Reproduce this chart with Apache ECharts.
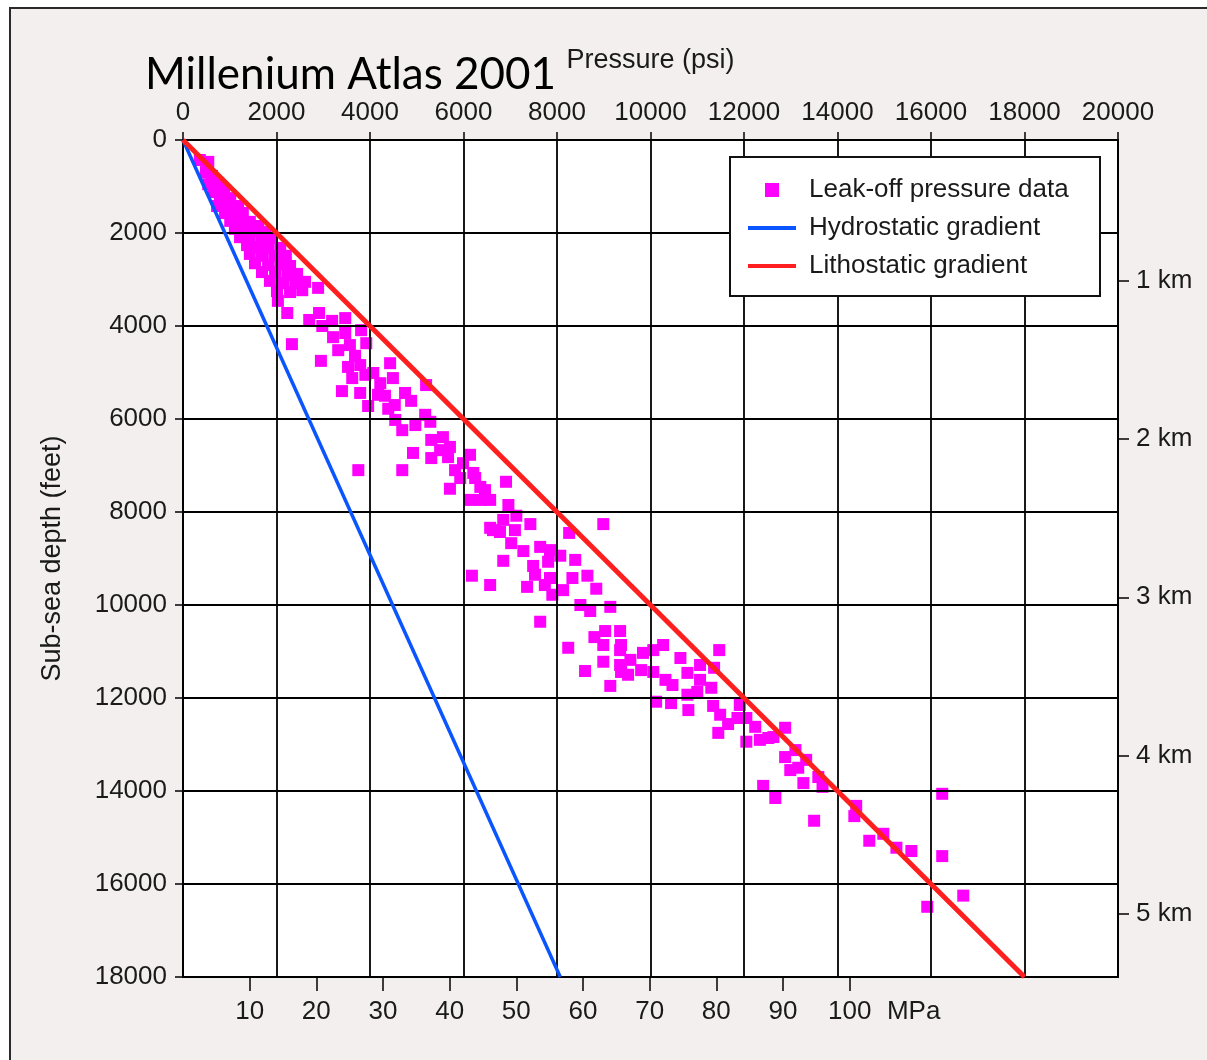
<!DOCTYPE html>
<html>
<head>
<meta charset="utf-8">
<script src="https://cdn.jsdelivr.net/npm/echarts@6/dist/echarts.min.js"></script>
<style>
  html, body { margin: 0; padding: 0; background: #fff; }
  #chart { width: 1207px; height: 1060px; }
</style>
</head>
<body>
<div id="chart"></div>
<script>
// Leak-off test pressures (psi) against sub-sea depth (ft)
const leakOffPsi = [
  360, 540, 490, 620, 540, 750, 660, 880, 790, 1010, 730, 940, 1180, 900, 1090, 1280,
  1010, 1220, 1430, 1610, 1110, 1330, 1540, 1760, 1220, 1430, 1690, 1860, 1370, 1580,
  1820, 2080, 1430, 1690, 1950, 2200, 1540, 1820, 2080, 2290, 1690, 1970, 2230, 2440,
  1860, 2140, 2400, 2610, 2010, 2290, 2550, 2890, 2030, 2230, 2330, 2700, 2910, 3190,
  3470, 2980, 2950, 3210, 3320, 3530, 3790, 3470, 3810, 3920, 3400, 3790, 3960, 4070,
  4220, 4430, 4490, 4390, 4750, 4880, 5200, 3750, 4690, 4690, 4970, 5290, 4920, 5310,
  5310, 5560, 5710, 5670, 5710, 5990, 6210, 6360, 6570, 6360, 3570, 3680, 3900, 3620,
  4170, 4540, 4320, 5930, 6140, 6250, 6460, 6570, 6910, 6960, 6850, 6630, 7130, 7430,
  7020, 7280, 7640, 7850, 8070, 6850, 7490, 7810, 6180, 6570, 7360, 7850, 7900, 8130,
  8330, 8650, 8840, 8260, 8990, 8500, 8710, 9140, 7640, 8240, 8800, 9030, 9350, 8990,
  9350, 9570, 8600, 6140, 6780, 8990, 9140, 9370, 9370, 9520, 9840, 9800, 10060, 10060,
  10270, 10320, 10470, 10640, 10790, 11060, 11470, 11360, 11300, 11000, 10790, 10120,
  10440, 10810, 11340, 11490, 11450, 11860, 12050, 12240, 12630, 12880, 12880, 12990,
  11660, 12050, 12520, 13160, 13270, 13590, 13680, 12410, 12670, 13500, 14400, 14360,
  14680, 14980, 15260, 15580, 16240, 16240, 16690, 15920, 13330, 13100,
  5820, 5500, 5180, 4530, 7100, 7740, 7530, 8390, 9350, 11060, 11910, 12340
];
const leakOffDepthFt = [
  430, 470, 690, 770, 950, 950, 1120, 1080, 1270, 1250, 1420, 1420, 1420, 1570, 1590, 1570,
  1740, 1740, 1760, 1850, 1910, 1910, 1960, 1980, 2090, 2110, 2150, 2110, 2260, 2300,
  2320, 2320, 2450, 2490, 2490, 2490, 2650, 2690, 2670, 2710, 2840, 2840, 2900, 2880,
  3030, 3080, 3080, 3050, 3250, 3270, 3230, 3180, 3460, 3720, 4390, 3870, 3720, 3890,
  3830, 4000, 4750, 4240, 4520, 4880, 4840, 4150, 4090, 4370, 5400, 5440, 5720, 5010,
  5230, 4800, 5120, 5780, 5440, 5610, 5270, 7100, 7100, 6240, 6130, 6060, 6730, 6450,
  6840, 6390, 6600, 6820, 7500, 6950, 7160, 7460, 8340, 7740, 4410, 4640, 5050, 5120,
  5480, 6020, 5500, 7270, 6770, 7270, 7530, 7740, 7350, 7850, 8170, 8390, 8080, 8260,
  8670, 8840, 8750, 8820, 8940, 9050, 9160, 9070, 9370, 9570, 9610, 9420, 9780, 9680,
  9420, 9370, 9650, 8450, 8260, 10000, 10130, 10040, 10360, 10920, 10690, 10560, 10560, 10860,
  10970, 11180, 11420, 7740, 8430, 11220, 11740, 10860, 11440, 11500, 11030, 11400, 10970, 11440,
  10860, 11610, 11720, 11140, 11460, 11290, 10970, 11350, 11780, 11870, 11930, 12080,
  12110, 12260, 12170, 12360, 12750, 12430, 12940, 12620, 12840, 12640, 13270, 13550,
  12560, 12430, 12860, 13500, 13830, 13700, 13910, 13890, 14150, 14640, 14320, 14540,
  15070, 14920, 15220, 15290, 14060, 15400, 16250, 16490, 13330, 13120,
  7100, 6670, 5910, 5700, 8390, 9570, 9350, 9030, 11290, 11610, 12150, 12900
];

// Pressure gradients from the surface (psi at 0 ft and at 18000 ft)
const hydrostaticPsi = [0, 8070];
const lithostaticPsi = [0, 18000];
const gradientDepthFt = [0, 18000];

// Secondary scales
const mpaTicks = [10, 20, 30, 40, 50, 60, 70, 80, 90, 100];
const mpaUnitLabelAt = 109.6;
const kmTicks = [1, 2, 3, 4, 5];

const FONT = '"Liberation Sans", Arial, Helvetica, sans-serif';
const TXT = '#1a1a1a';

const scatterData = leakOffPsi.map((p, i) => [p, leakOffDepthFt[i]]);
const hydroData = hydrostaticPsi.map((p, i) => [p, gradientDepthFt[i]]);
const lithoData = lithostaticPsi.map((p, i) => [p, gradientDepthFt[i]]);

const plainNumber = v => String(v);

const chart = echarts.init(document.getElementById('chart'), null, { renderer: 'canvas' });

chart.setOption({
  animation: false,
  backgroundColor: '#ffffff',
  graphic: [
    {
      type: 'rect', silent: true, z: -10,
      shape: { x: 10, y: 8, width: 1230, height: 1090 },
      style: { fill: '#f4efef', stroke: '#2a2a2a', lineWidth: 2 }
    },
    {
      type: 'rect', silent: true, z: 50,
      shape: { x: 730, y: 157, width: 370, height: 139 },
      style: { fill: '#ffffff', stroke: '#111111', lineWidth: 2 }
    }
  ],
  title: {
    text: 'Millenium Atlas 2001',
    left: 145, top: 53, padding: 0,
    textStyle: { fontFamily: 'Lato, "Open Sans", sans-serif', fontSize: 44, fontWeight: 'normal', color: '#000' }
  },
  legend: {
    orient: 'vertical',
    left: 743, top: 171,
    itemWidth: 48, itemHeight: 14, itemGap: 10,
    symbolKeepAspect: true,
    z: 60,
    textStyle: { fontFamily: FONT, fontSize: 26, color: TXT, padding: [0, 0, 0, 8], lineHeight: 28 },
    data: [
      { name: 'Leak-off pressure data', icon: 'path://M0,0H10V10H0Z' },
      { name: 'Hydrostatic gradient', icon: 'path://M0,0H48V4H0Z' },
      { name: 'Lithostatic gradient', icon: 'path://M0,0H48V4H0Z' }
    ]
  },
  grid: {
    left: 183, top: 140, width: 935, height: 837,
    show: true, backgroundColor: '#ffffff', borderColor: '#000', borderWidth: 2
  },
  xAxis: [
    {
      type: 'value', position: 'top', min: 0, max: 20000, interval: 2000, z: 5,
      name: 'Pressure (psi)', nameLocation: 'middle', nameGap: 66,
      nameTextStyle: { fontFamily: FONT, fontSize: 27, color: TXT },
      axisLine: { show: true, onZero: false, lineStyle: { color: '#000', width: 2 } },
      axisTick: { show: true, length: 8, lineStyle: { color: '#000', width: 1.5 } },
      axisLabel: { fontFamily: FONT, fontSize: 26, color: TXT, margin: 14, formatter: plainNumber },
      splitLine: { show: true, lineStyle: { color: '#000', width: 1.8 } }
    },
    {
      type: 'value', position: 'bottom', min: 0, max: 140.25, z: 5,
      axisLine: { show: false, onZero: false },
      axisTick: { show: true, inside: false, length: 14, customValues: mpaTicks, lineStyle: { color: '#000', width: 1.5 } },
      axisLabel: {
        fontFamily: FONT, fontSize: 26, color: TXT, margin: 22,
        customValues: mpaTicks.concat([mpaUnitLabelAt]),
        formatter: v => (v > 100 ? 'MPa' : String(v))
      },
      splitLine: { show: false }
    }
  ],
  yAxis: [
    {
      type: 'value', position: 'left', inverse: true, min: 0, max: 18000, interval: 2000, z: 5,
      name: 'Sub-sea depth (feet)', nameLocation: 'middle', nameGap: 117, nameRotate: 90,
      nameTextStyle: { fontFamily: FONT, fontSize: 27, color: TXT },
      axisLine: { show: true, onZero: false, lineStyle: { color: '#000', width: 2 } },
      axisTick: { show: true, length: 8, lineStyle: { color: '#000', width: 1.5 } },
      axisLabel: { fontFamily: FONT, fontSize: 26, color: TXT, margin: 16, formatter: plainNumber },
      splitLine: { show: true, lineStyle: { color: '#000', width: 1.8 } }
    },
    {
      type: 'value', position: 'right', inverse: true, min: 0.11, max: 5.40, z: 5,
      axisLine: { show: false, onZero: false },
      axisTick: { show: true, inside: false, length: 11, customValues: kmTicks, lineStyle: { color: '#000', width: 1.5 } },
      axisLabel: {
        fontFamily: FONT, fontSize: 26, color: TXT, margin: 18,
        customValues: kmTicks,
        formatter: v => v + ' km'
      },
      splitLine: { show: false }
    }
  ],
  series: [
    {
      name: 'Leak-off pressure data', type: 'scatter',
      xAxisIndex: 0, yAxisIndex: 0, z: 2,
      symbol: 'rect', symbolSize: 12,
      itemStyle: { color: '#ff00ff', opacity: 1 },
      data: scatterData
    },
    {
      name: 'Hydrostatic gradient', type: 'line',
      xAxisIndex: 0, yAxisIndex: 0, z: 10,
      symbol: 'none',
      lineStyle: { color: '#0a55ff', width: 3.5 },
      itemStyle: { color: '#0a55ff' },
      data: hydroData
    },
    {
      name: 'Lithostatic gradient', type: 'line',
      xAxisIndex: 0, yAxisIndex: 0, z: 11,
      symbol: 'none',
      lineStyle: { color: '#ff1f1f', width: 5 },
      itemStyle: { color: '#ff1f1f' },
      data: lithoData
    }
  ]
});
</script>
</body>
</html>
